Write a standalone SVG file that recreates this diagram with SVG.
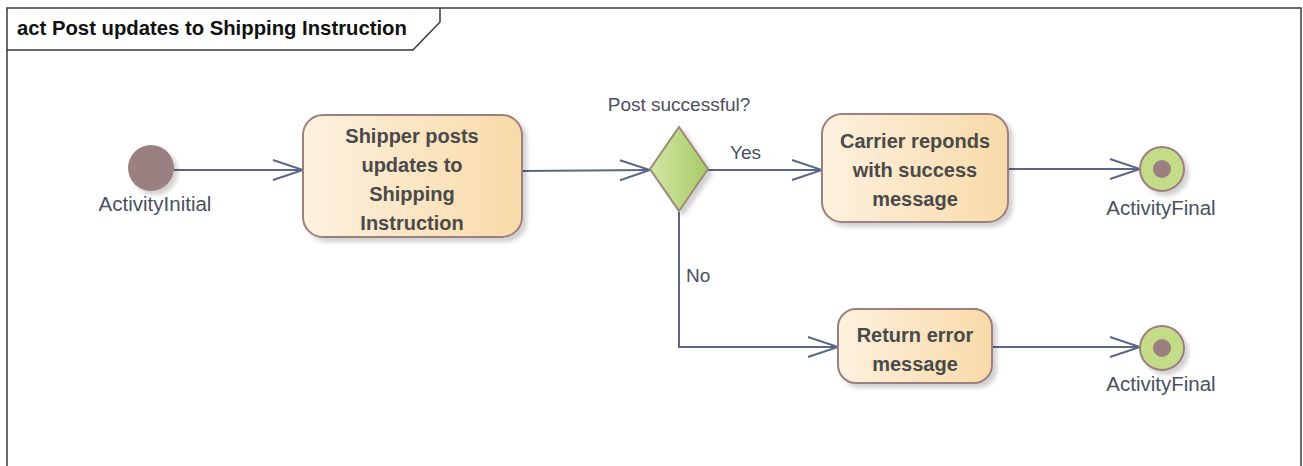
<svg xmlns="http://www.w3.org/2000/svg" width="1303" height="466" viewBox="0 0 1303 466">
<defs>
<linearGradient id="actG" x1="0" y1="0" x2="1" y2="0">
<stop offset="0" stop-color="#fdf1df"/>
<stop offset="1" stop-color="#f8daa8"/>
</linearGradient>
<linearGradient id="decG" x1="0" y1="0" x2="1" y2="0">
<stop offset="0" stop-color="#d3e6a6"/>
<stop offset="1" stop-color="#a8cb64"/>
</linearGradient>
<filter id="sh" x="-20%" y="-20%" width="150%" height="150%">
<feDropShadow dx="4" dy="4" stdDeviation="2" flood-color="#000" flood-opacity="0.18"/>
</filter>
<marker id="arr" markerWidth="34" markerHeight="24" refX="31" refY="12" orient="auto" markerUnits="userSpaceOnUse">
<path d="M1,2 L31,12 L1,22" fill="none" stroke="#5b6785" stroke-width="2"/>
</marker>
<style>
.frame{fill:none;stroke:#3a3a3a;stroke-width:1.5}
.act{fill:url(#actG);stroke:#9c7f7f;stroke-width:2;filter:url(#sh)}
.dec{fill:url(#decG);stroke:#9c8a7a;stroke-width:2;filter:url(#sh)}
.fin{fill:#c4dc88;stroke:#9c7f7f;stroke-width:2;filter:url(#sh)}
.dot{fill:#9a8080}
.edge{fill:none;stroke:#5b6785;stroke-width:2;marker-end:url(#arr)}
.t{font-family:"Liberation Sans",Arial,sans-serif;font-size:20px;font-weight:bold;fill:#4a4a4a;text-anchor:middle}
.l{font-family:"Liberation Sans",Arial,sans-serif;font-size:19px;fill:#4a5060}
.title{font-family:"Liberation Sans",Arial,sans-serif;font-size:20.3px;font-weight:bold;fill:#111}
</style>
</defs>
<rect width="1303" height="466" fill="#fff"/>
<g id="frame">
<path class="frame" d="M7,470 L7,8 L1301,8 L1301,470"/>
<path class="frame" d="M7,50 L413,50 L440,22 L440,8"/>
<text class="title" x="17" y="35">act Post updates to Shipping Instruction</text>
</g>
<g id="connectors">
<path class="edge" d="M174,170 L303,170"/>
<path class="edge" d="M522,171 L650,170"/>
<path class="edge" d="M708,170 L822,170"/>
<path class="edge" d="M1008,169 L1140,169"/>
<path class="edge" d="M679,212 L679,347 L838,347"/>
<path class="edge" d="M992,347 L1140,347"/>
<text class="l" x="730" y="159">Yes</text>
<text class="l" x="686" y="282">No</text>
</g>
<g id="initial">
<circle cx="151" cy="168" r="23" fill="#9a8080" filter="url(#sh)"/>
<text class="l" x="155" y="211" text-anchor="middle" style="font-size:20.5px">ActivityInitial</text>
</g>
<g id="action1">
<rect class="act" x="303" y="115" width="219" height="122" rx="20"/>
<text class="t" x="412" y="143">Shipper posts</text>
<text class="t" x="412" y="172">updates to</text>
<text class="t" x="412" y="201">Shipping</text>
<text class="t" x="412" y="230">Instruction</text>
</g>
<g id="decision">
<path class="dec" d="M679,127 L708,169 L679,211 L650,169 Z"/>
<text class="l" x="679" y="111" text-anchor="middle">Post successful?</text>
</g>
<g id="action2">
<rect class="act" x="822" y="114" width="186" height="108" rx="20"/>
<text class="t" x="915" y="148">Carrier reponds</text>
<text class="t" x="915" y="177">with success</text>
<text class="t" x="915" y="206">message</text>
</g>
<g id="final1">
<circle class="fin" cx="1162" cy="169" r="22"/>
<circle class="dot" cx="1162" cy="169" r="9"/>
<text class="l" x="1161" y="215" text-anchor="middle" style="font-size:20.5px">ActivityFinal</text>
</g>
<g id="action3">
<rect class="act" x="838" y="309" width="154" height="74" rx="18"/>
<text class="t" x="915" y="342">Return error</text>
<text class="t" x="915" y="371">message</text>
</g>
<g id="final2">
<circle class="fin" cx="1162" cy="348" r="22"/>
<circle class="dot" cx="1162" cy="348" r="9"/>
<text class="l" x="1161" y="391" text-anchor="middle" style="font-size:20.5px">ActivityFinal</text>
</g>
</svg>
